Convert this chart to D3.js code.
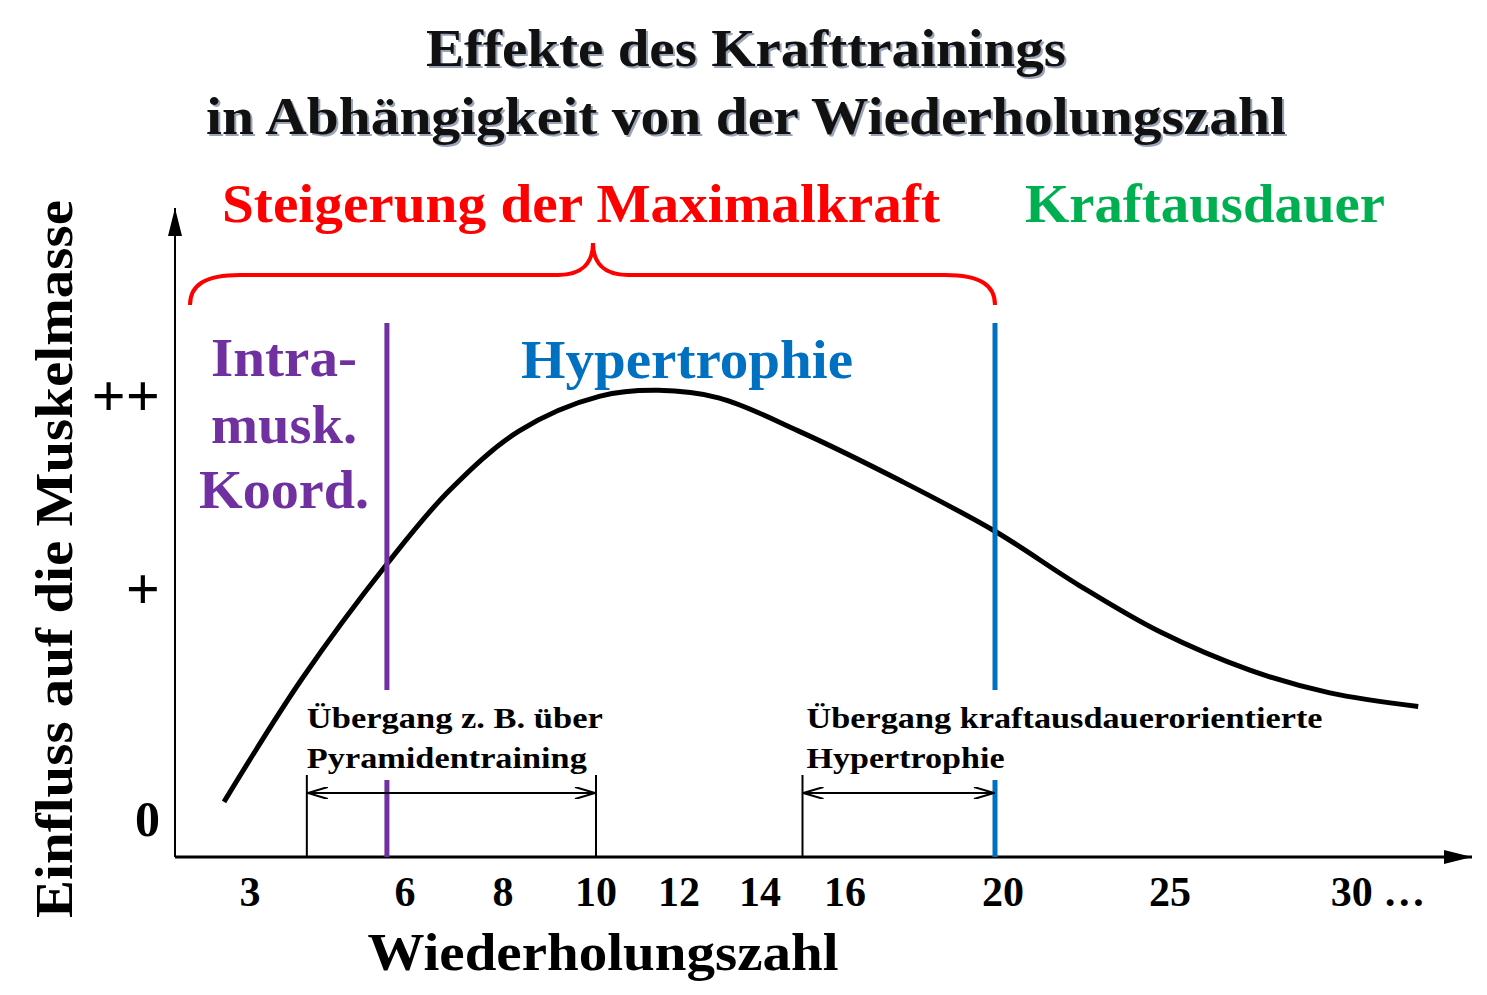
<!DOCTYPE html>
<html><head><meta charset="utf-8">
<script src="https://cdn.jsdelivr.net/npm/d3@7"></script>
<style>body{margin:0;background:#fff}text{font-family:"Liberation Serif","Times New Roman",serif;font-weight:bold}</style>
</head><body>
<svg id="c" width="1487" height="995"></svg>
<script>
// reps (x) and effect (y)
const reps   = [2.5, 4.0, 5.65, 6.9, 8.35, 10.1, 11.5, 13.0, 14.9, 17.5, 20, 22.4, 24.7, 27.35, 29.7, 32.3];
const effect = [0.08, 0.62, 1.15, 1.53, 1.84, 2.02, 2.05, 2.01, 1.84, 1.58, 1.32, 1.04, 0.83, 0.66, 0.56, 0.50];
const xTicks = [3, 6, 8, 10, 12, 14, 16, 20, 25, 30];
const xTickLabels = ["3", "6", "8", "10", "12", "14", "16", "20", "25", "30 …"];
const yTicks = [0, 1, 2];
const yTickLabels = ["0", "+", "++"];
const markers = {purple: 5.65, blue: 20, pyrStart: 4.1, pyrEnd: 10, kaStart: 15};

const svg = d3.select("#c");
const x = d3.scaleLinear().domain([2, 3, 6, 8, 10, 12, 14, 16, 20, 25, 30, 33])
  .range([198, 250, 405, 503, 596, 679, 760, 845, 995, 1170, 1340, 1442]);
const y = d3.scaleLinear().domain([0, 1, 2]).range([820, 593, 400]);
const X0 = 175, Y0 = 857;

const def = svg.append("defs");
def.append("marker").attr("id", "ab").attr("viewBox", "0 0 20 10")
  .attr("refX", 20).attr("refY", 5).attr("markerWidth", 30).attr("markerHeight", 14)
  .attr("markerUnits", "userSpaceOnUse").attr("orient", "auto-start-reverse")
  .append("path").attr("d", "M0,0L20,5L0,10z");
def.append("marker").attr("id", "am").attr("viewBox", "0 0 20 12").attr("refX", 20).attr("refY", 6)
  .attr("markerWidth", 22).attr("markerHeight", 12).attr("markerUnits", "userSpaceOnUse")
  .attr("orient", "auto-start-reverse").append("path").attr("d", "M0,0L20,6L0,12")
  .attr("fill", "none").attr("stroke", "#000").attr("stroke-width", 2);

const txt = (t, xx, yy, size, fill, len, anchor) => svg.append("text").attr("x", xx).attr("y", yy)
  .attr("text-anchor", anchor || "middle").attr("font-size", size).attr("fill", fill || "#000")
  .attr("textLength", len).attr("lengthAdjust", "spacingAndGlyphs").text(t);

// title with shadow
[["Effekte des Krafttrainings", 66, 640], ["in Abhängigkeit von der Wiederholungszahl", 134, 1080]].forEach(([t, yy, len]) => {
  txt(t, 748, yy + 2, 52, "#9aa4b8", len);
  txt(t, 746, yy, 52, "#111", len);
});

// axes
svg.append("line").attr("x1", X0).attr("y1", Y0).attr("x2", 1472).attr("y2", Y0)
  .attr("stroke", "#000").attr("stroke-width", 3).attr("marker-end", "url(#ab)");
svg.append("line").attr("x1", X0).attr("y1", Y0).attr("x2", X0).attr("y2", 208)
  .attr("stroke", "#000").attr("stroke-width", 2).attr("marker-end", "url(#ab)");

svg.selectAll(".xt").data(xTicks).join("text").attr("x", d => x(d) + (d === 30 ? 38 : d === 20 ? 8 : 0))
  .attr("y", 906).attr("text-anchor", "middle").attr("font-size", 42)
  .text((d, i) => xTickLabels[i]);
svg.selectAll(".yt").data(yTicks).join("text").attr("x", 160).attr("y", d => y(d) + 16)
  .attr("text-anchor", "end").attr("font-size", d => d === 0 ? 50 : 60).text((d, i) => yTickLabels[i]);

txt("Wiederholungszahl", 603, 970, 52, "#000", 471);
svg.append("text").attr("transform", "translate(72,559) rotate(-90)").attr("text-anchor", "middle")
  .attr("font-size", 52).attr("textLength", 718).attr("lengthAdjust", "spacingAndGlyphs")
  .text("Einfluss auf die Muskelmasse");

// curve
svg.append("path").datum(reps.map((r, i) => [r, effect[i]]))
  .attr("d", d3.line().x(d => x(d[0])).y(d => y(d[1])).curve(d3.curveCatmullRom))
  .attr("fill", "none").attr("stroke", "#000").attr("stroke-width", 5);

// vertical markers
[[markers.purple, "#7030a0"], [markers.blue, "#0070c0"]].forEach(([v, c]) => {
  [[323, 690], [780, Y0]].forEach(([a, b]) =>
    svg.append("line").attr("x1", x(v)).attr("x2", x(v)).attr("y1", a).attr("y2", b)
      .attr("stroke", c).attr("stroke-width", 5));
});
[markers.pyrStart, markers.pyrEnd, markers.kaStart].forEach(v =>
  svg.append("line").attr("x1", x(v)).attr("x2", x(v)).attr("y1", 775).attr("y2", Y0)
    .attr("stroke", "#000").attr("stroke-width", 2));
[[markers.pyrStart, markers.pyrEnd], [markers.kaStart, markers.blue]].forEach(([a, b]) =>
  svg.append("line").attr("x1", x(a) + 1).attr("x2", x(b) - 1).attr("y1", 793).attr("y2", 793)
    .attr("stroke", "#000").attr("stroke-width", 2)
    .attr("marker-start", "url(#am)").attr("marker-end", "url(#am)"));

// annotations
txt("Übergang z. B. über", x(markers.pyrStart), 728, 30, "#000", 296, "start");
txt("Pyramidentraining", x(markers.pyrStart), 768, 30, "#000", 280, "start");
txt("Übergang kraftausdauerorientierte", x(markers.kaStart) + 4, 728, 30, "#000", 516, "start");
txt("Hypertrophie", x(markers.kaStart) + 4, 768, 30, "#000", 198, "start");

// brace
const bx0 = 190, bx1 = 995, bm = 593;
svg.append("path").attr("d",
  `M${bx0},305 C${bx0},285 205,275 240,275 L${bm - 35},275 C${bm - 10},275 ${bm},262 ${bm},243 ` +
  `C${bm},262 ${bm + 10},275 ${bm + 35},275 L${bx1 - 50},275 C${bx1 - 15},275 ${bx1},285 ${bx1},305`)
  .attr("fill", "none").attr("stroke", "#ff0000").attr("stroke-width", 4);

txt("Steigerung der Maximalkraft", 581, 222, 54, "#ff0000", 718);
txt("Kraftausdauer", 1205, 222, 54, "#00b050", 360);
txt("Hypertrophie", 687, 378, 54, "#0070c0", 332);
[["Intra-", 376, 146], ["musk.", 443, 146], ["Koord.", 508, 170]].forEach(([t, yy, len]) =>
  txt(t, 284, yy, 54, "#7030a0", len));
</script>
</body></html>
